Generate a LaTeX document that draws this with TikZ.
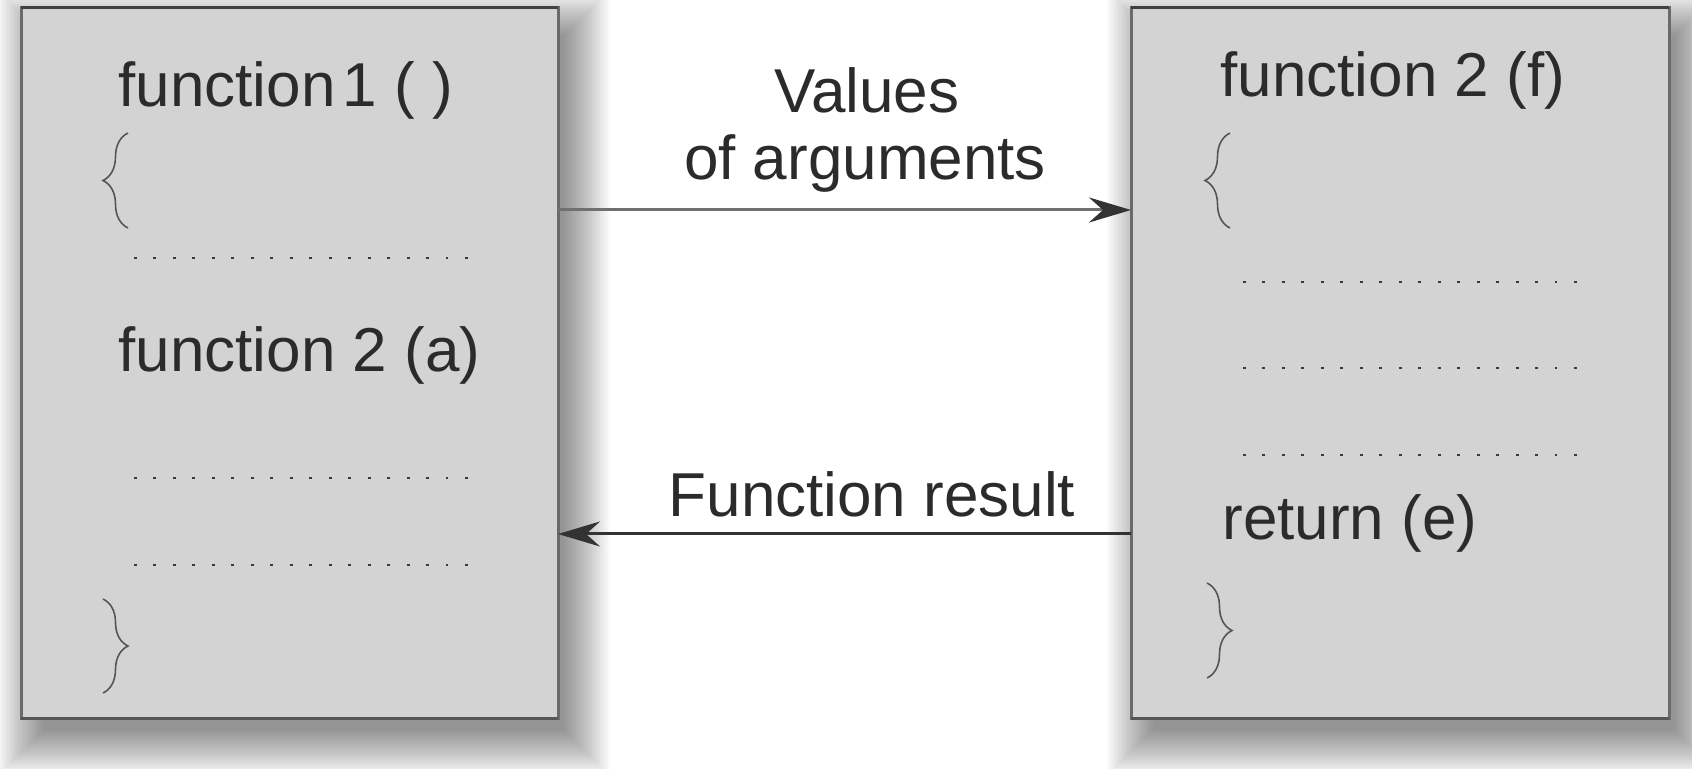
\documentclass[tikz,border=0pt]{standalone}
\usepackage{fontspec}
\setmainfont{Liberation Sans}
\usetikzlibrary{arrows.meta,decorations.pathreplacing}
\definecolor{boxfill}{HTML}{D3D3D3}
\definecolor{boxedge}{HTML}{6A6A6A}
\definecolor{boxtop}{HTML}{404040}
\definecolor{boxbot}{HTML}{555555}
\definecolor{ink}{HTML}{2B2B2B}
\definecolor{dotc}{HTML}{3A3A3A}
\definecolor{bracec}{HTML}{555555}
\definecolor{arrowtop}{HTML}{707070}
\definecolor{arrowbot}{HTML}{333333}
\begin{document}
\begin{tikzpicture}[x=0.5pt,y=-0.5pt,
  fbox/.style={rectangle, fill=boxfill, draw=boxedge, line width=1.5pt, inner sep=0pt, outer sep=0pt},
  code/.style={anchor=base west, inner sep=0pt, text=ink, font=\fontsize{31pt}{36pt}\selectfont},
  lbl/.style={anchor=base, inner sep=0pt, text=ink, font=\fontsize{31pt}{36pt}\selectfont},
  dotrow/.style={draw=dotc, line width=1.4pt, dash pattern=on 1.4pt off 8.34pt},
  cbrace/.style={draw=bracec, line width=0.8pt, decorate, decoration={brace, amplitude=12.5pt, aspect=0.5}},
  flow/.style={line width=1.5pt, -{Stealth[length=21pt,width=12.5pt,inset=7pt,color=arrowbot]}},
]
\useasboundingbox (0,0) rectangle (1692,769);
\fill[white] (0,0) rectangle (1692,769);
% soft shadows
\foreach \i in {1,...,24}{
  \fill[black, opacity=0.02] ({45-2*\i},{38-2*\i}) rectangle ({562+2*\i},{728+2*\i});
  \fill[black, opacity=0.02] ({1155-2*\i},{38-2*\i}) rectangle ({1673+2*\i},{728+2*\i});
}
% boxes
\node[fbox, minimum width=268.5pt, minimum height=355pt] (L) at (289.5,363) {};
\node[fbox, minimum width=269pt, minimum height=355pt] (R) at (1400,363) {};
\draw[boxtop, line width=1.5pt] (L.north west) -- (L.north east);
\draw[boxtop, line width=1.5pt] (R.north west) -- (R.north east);
\draw[boxbot, line width=1.5pt] (L.south west) -- (L.south east);
\draw[boxbot, line width=1.5pt] (R.south west) -- (R.south east);
% left box contents
\node[code] (f1) at (118,107) {function\hspace{0.12em}1 ( )};
\draw[cbrace] (128,228) -- (128,133);
\draw[dotrow] (134,258) -- (468,258);
\node[code] (f2a) at (118,372) {function 2 (a)};
\draw[dotrow] (134,478) -- (468,478);
\draw[dotrow] (134,565) -- (468,565);
\draw[cbrace] (103,599) -- (103,693);
% right box contents
\node[code] (f2f) at (1220,97) {function 2 (f)};
\draw[cbrace] (1230,228) -- (1230,133);
\draw[dotrow] (1243,282) -- (1577,282);
\draw[dotrow] (1243,368) -- (1577,368);
\draw[dotrow] (1243,455) -- (1577,455);
\node[code] (ret) at (1222,540) {return (e)};
\draw[cbrace] (1207,583) -- (1207,678);
% arrows and labels
\draw[flow, draw=arrowtop] (L.east |- 0,210) -- (R.west |- 0,210);
\draw[flow, draw=arrowbot] (R.west |- 0,534) -- (L.east |- 0,534);
\node[lbl] (v1) at (867,113) {Values};
\node[lbl] (v2) at (865,180) {of arguments};
\node[lbl] (fr) at (872,517) {Function result};
\end{tikzpicture}
\end{document}
